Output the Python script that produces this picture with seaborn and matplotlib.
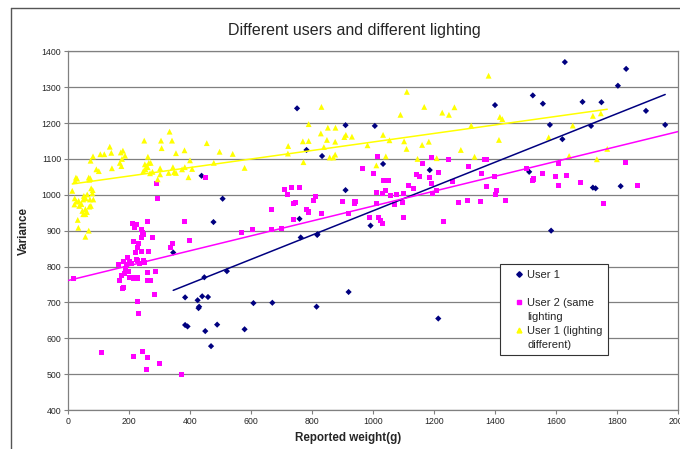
import matplotlib
matplotlib.use("Agg")
import matplotlib.pyplot as plt
from matplotlib.lines import Line2D
import seaborn as sns

# ---- data ----
# User 1
user1_x = [344, 446, 383, 424, 429, 427, 439, 458, 383, 391, 449, 488, 468, 520,
           437, 506, 476, 762, 816, 817, 607, 669, 578, 814, 919, 1213, 1583,
           750, 909, 1005, 781, 832, 1032, 909, 758, 991, 1185, 1628, 1829, 1802,
           1523, 1556, 1686, 1748, 1399, 1894, 1579, 1714, 1957, 1620, 1511,
           1720, 1729, 1811]
user1_y = [839, 770, 714, 706, 688, 684, 717, 715, 637, 633, 620, 638, 578, 787,
           1053, 989, 924, 881, 888, 890, 698, 699, 625, 688, 729, 655, 900,
           1241, 1194, 1192, 1125, 1108, 1086, 1013, 933, 914, 1069, 1370, 1351, 1304,
           1277, 1254, 1259, 1258, 1250, 1234, 1195, 1192, 1195, 1155, 1064,
           1020, 1018, 1024]

# User 2 (same lighting)
user2_x = [16, 211, 222, 216, 260, 380, 240, 242, 247, 240, 275, 215, 231, 228,
           221, 240, 262, 342, 335, 399, 195, 180, 202, 207, 191, 163, 188, 199,
           184, 176, 228, 246, 250, 235, 223, 201, 213, 227, 260, 287, 259, 268,
           167, 178, 180, 284, 226, 230, 109, 214, 242, 261, 258, 298, 371, 288,
           291, 451, 710, 731, 757, 719, 739, 746, 667, 780, 787, 805, 811, 831,
           739, 569, 604, 667, 699, 900, 937, 940, 920, 966, 1001, 1014, 1033,
           1050, 1012, 1029, 1040, 1056, 1077, 1011, 986, 1017, 1023, 1030, 1096,
           1100, 1098, 1068, 1117, 1133, 1141, 1152, 1160, 1192, 1184, 1192, 1193,
           1208, 1214, 1247, 1261, 1278, 1231, 1312, 1365, 1371, 1356, 1398, 1372,
           1405, 1400, 1435, 1279, 1308, 1352, 1502, 1526, 1522, 1555, 1597, 1633,
           1608, 1607, 1678, 1756, 1828, 1865]
user2_y = [766, 921, 917, 909, 926, 926, 904, 895, 890, 880, 881, 869, 865, 854,
           840, 841, 843, 865, 852, 872, 825, 815, 813, 809, 806, 806, 795, 786,
           781, 776, 816, 818, 812, 809, 819, 770, 768, 768, 784, 787, 760, 761,
           762, 739, 742, 721, 702, 668, 561, 549, 563, 546, 512, 531, 499, 1032,
           990, 1047, 1016, 1021, 1019, 1002, 976, 978, 960, 958, 952, 985, 995, 949,
           932, 894, 903, 903, 906, 980, 975, 982, 947, 1074, 1060, 1106, 1040,
           1039, 1007, 1003, 1011, 999, 1000, 977, 937, 938, 928, 919, 978,
           937, 1004, 973, 1026, 1017, 1057, 1050, 1087, 1104, 1047, 1032, 1003,
           1011, 1062, 1099, 1037, 978, 926, 1080, 1099, 1099, 1058, 1051, 1024,
           1012, 1000, 985, 979, 983, 981, 1072, 1044, 1039, 1060, 1052, 1054,
           1026, 1086, 1034, 976, 1089, 1026]

# User 1 (lighting different)
user1b_x = [136, 141, 105, 118, 81, 73, 92, 100, 25, 29, 22, 67, 69, 72, 13, 21,
            27, 20, 34, 36, 43, 49, 51, 57, 62, 71, 75, 79, 80, 82, 69, 74, 46,
            49, 56, 61, 56, 31, 33, 67, 56, 172, 179, 186, 176, 169, 174, 143,
            332, 249, 304, 340, 306, 261, 353, 381, 454, 496, 539, 399, 477, 251,
            257, 264, 270, 260, 246, 253, 268, 276, 293, 301, 301, 329, 343, 347,
            353, 373, 382, 406, 394, 1110, 830, 1167, 1226, 1248, 1266, 1089, 788,
            851, 876, 828, 848, 875, 769, 788, 910, 905, 930, 1032, 1053, 1101,
            1109, 1160, 1182, 721, 720, 771, 838, 981, 875, 869, 857, 1041, 1145,
            1208, 1010, 578, 1378, 1415, 1423, 1321, 1654, 1720, 1746, 1412, 1575,
            1287, 1332, 1642, 1767, 1733]
user1b_y = [1134, 1117, 1113, 1113, 1107, 1095, 1071, 1066, 1048, 1045, 1038, 1048,
            1042, 1046, 1011, 990, 981, 973, 983, 969, 974, 987, 997, 990, 1001,
            987, 1018, 1004, 1013, 987, 967, 969, 955, 946, 946, 952, 960, 930,
            908, 900, 883, 1118, 1123, 1109, 1100, 1089, 1080, 1074,
            1176, 1151, 1151, 1151, 1130, 1106, 1116, 1124, 1144, 1120, 1114, 1096,
            1089, 1085, 1080, 1089, 1089, 1077, 1066, 1071, 1060, 1064, 1043, 1074,
            1057, 1061, 1077, 1063, 1061, 1071, 1077, 1072, 1049, 1287, 1245, 1245,
            1229, 1223, 1244, 1223, 1197, 1187, 1187, 1171, 1153, 1148, 1149, 1150,
            1167, 1161, 1162, 1167, 1152, 1149, 1128, 1139, 1148, 1136, 1115, 1091,
            1133, 1138, 1112, 1104, 1104, 1107, 1100, 1102, 1082, 1075, 1332, 1217,
            1211, 1193, 1193, 1220, 1227, 1153, 1160, 1125, 1106, 1108, 1128, 1099]

colors = ["#000080", "#FF00FF", "#FFFF00"]

sns.set_style("white")
plt.rcParams['font.family'] = ['Liberation Sans', 'DejaVu Sans']

W, H = 680, 449
fig = plt.figure(figsize=(6.8, 4.49), dpi=100)
ax = fig.add_axes([68.3 / W, 1 - 410 / H, 610 / W, 358.7 / H])
ax.set_xlim(0, 2000)
ax.set_ylim(400, 1400)

# points
sns.scatterplot(x=user1_x, y=user1_y, marker="D", s=10, color=colors[0],
                edgecolor="none", ax=ax, zorder=3)
sns.scatterplot(x=user2_x, y=user2_y, marker="s", s=13, color=colors[1],
                edgecolor="none", ax=ax, zorder=3)
sns.scatterplot(x=user1b_x, y=user1b_y, marker="^", s=18, color=colors[2],
                edgecolor="none", ax=ax, zorder=3)

# linear trendlines
sns.regplot(x=user1_x, y=user1_y, scatter=False, ci=None, color=colors[0],
            line_kws={"lw": 1.1, "zorder": 4}, ax=ax)
sns.regplot(x=user2_x, y=user2_y, scatter=False, ci=None, truncate=False,
            color=colors[1], line_kws={"lw": 1.1, "zorder": 4}, ax=ax)
sns.regplot(x=user1b_x, y=user1b_y, scatter=False, ci=None, color=colors[2],
            line_kws={"lw": 1.1, "zorder": 4}, ax=ax)
ax.set_xlim(0, 2000)
ax.set_ylim(400, 1400)

# axes look (old Excel style)
ax.set_xticks(range(0, 2001, 200))
ax.set_yticks(range(400, 1401, 100))
ax.yaxis.grid(True, color="#808080", lw=0.9)
ax.set_axisbelow(True)
for side in ["left", "bottom", "top", "right"]:
    ax.spines[side].set_color("#808080")
    ax.spines[side].set_linewidth(0.9)
ax.tick_params(axis="both", labelsize=6.3, length=3, width=0.8,
               color="#808080", direction="out", pad=2)
ax.tick_params(axis="both", which="both", left=True, bottom=True)

ax.set_xlabel("Reported weight(g)", fontsize=8.4, fontweight="bold")
ax.set_ylabel("Variance", fontsize=8.4, fontweight="bold")
ax.xaxis.set_label_coords((348 - 68.3) / 610, -0.061)
ax.yaxis.set_label_coords(-(68.3 - 30) / 610, 0.5)

fig.text(354 / W, 1 - 31 / H, "Different users and different lighting",
         fontsize=11.5, ha="center", va="center")

# legend: each wrapped label takes two rows
blank = Line2D([], [], ls="none")
handles = [
    Line2D([], [], ls="none", marker="D", ms=2.8, color=colors[0]),
    blank,
    Line2D([], [], ls="none", marker="s", ms=3, color=colors[1]),
    blank,
    Line2D([], [], ls="none", marker="^", ms=3.5, color=colors[2]),
    blank,
]
leg_labels = ["User 1", " ", "User 2 (same", "lighting", "User 1 (lighting", "different)"]
leg = ax.legend(handles, leg_labels, loc="upper left",
                bbox_to_anchor=(500 / W, 1 - 264 / H), bbox_transform=fig.transFigure,
                frameon=True, fancybox=False, edgecolor="#333333", framealpha=1,
                fontsize=8, borderaxespad=0, borderpad=0.5, labelspacing=0.36,
                handlelength=2.4, handletextpad=-0.45)
leg.get_frame().set_linewidth(0.8)

# chart area border (only left and top visible in the crop)
fig.add_artist(Line2D([11 / W, 11 / W], [0, 1 - 8 / H], transform=fig.transFigure,
                      color="#555555", lw=1))
fig.add_artist(Line2D([11 / W, 1], [1 - 8 / H, 1 - 8 / H], transform=fig.transFigure,
                      color="#555555", lw=1))

fig.savefig("out.png", dpi=100)
